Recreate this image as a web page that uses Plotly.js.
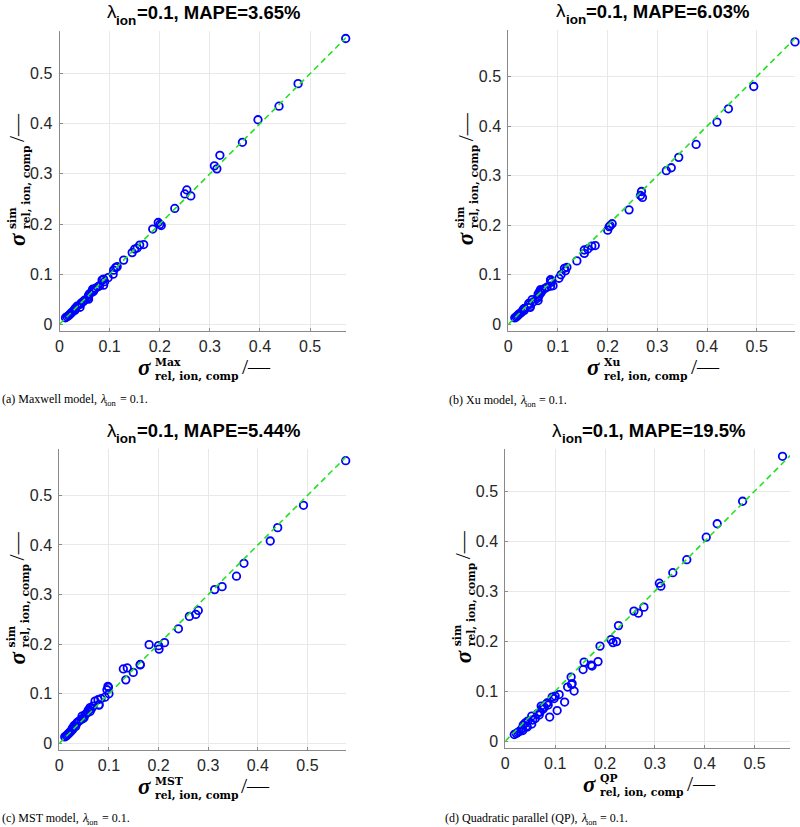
<!DOCTYPE html>
<html><head><meta charset="utf-8">
<script src="https://cdn.plot.ly/plotly-3.0.1.min.js"></script>
<style>body{margin:0;background:#fff}</style>
</head><body><div id="chart" style="width:800px;height:827px"></div>
<script>
// ---------- data ----------
const simValues = [0.570, 0.480, 0.435, 0.408, 0.363, 0.337, 0.316, 0.310, 0.268, 0.260,
 0.256, 0.231, 0.203, 0.199, 0.197, 0.190, 0.159, 0.158, 0.152, 0.150,
 0.143, 0.128, 0.115, 0.113, 0.108, 0.100, 0.093, 0.090, 0.088, 0.085,
 0.078, 0.077, 0.075, 0.072, 0.070, 0.068, 0.066, 0.064, 0.061, 0.058,
 0.055, 0.052, 0.050, 0.048, 0.045, 0.042, 0.040, 0.036, 0.034, 0.032,
 0.030, 0.028, 0.025, 0.023, 0.021, 0.019, 0.017, 0.015, 0.013];
const maxwellX = [0.571, 0.476, 0.438, 0.396, 0.365, 0.320, 0.309, 0.314, 0.254, 0.250,
 0.262, 0.230, 0.197, 0.200, 0.203, 0.186, 0.168, 0.160, 0.155, 0.150,
 0.145, 0.128, 0.115, 0.112, 0.108, 0.107, 0.097, 0.088, 0.085, 0.090,
 0.088, 0.080, 0.077, 0.072, 0.066, 0.067, 0.068, 0.065, 0.060, 0.058,
 0.058, 0.056, 0.058, 0.050, 0.047, 0.043, 0.042, 0.035, 0.041, 0.032,
 0.030, 0.031, 0.026, 0.024, 0.022, 0.020, 0.018, 0.015, 0.012];
const xuX = [0.577, 0.494, 0.443, 0.420, 0.378, 0.343, 0.328, 0.318, 0.268, 0.266,
 0.270, 0.243, 0.209, 0.205, 0.203, 0.200, 0.175, 0.168, 0.160, 0.153,
 0.153, 0.138, 0.118, 0.113, 0.115, 0.106, 0.102, 0.085, 0.085, 0.087,
 0.090, 0.085, 0.078, 0.073, 0.065, 0.068, 0.063, 0.066, 0.060, 0.062,
 0.060, 0.058, 0.048, 0.060, 0.050, 0.041, 0.043, 0.044, 0.044, 0.032,
 0.030, 0.032, 0.027, 0.025, 0.022, 0.020, 0.018, 0.016, 0.013];
const mstX = [0.577, 0.492, 0.440, 0.425, 0.372, 0.357, 0.328, 0.313, 0.280, 0.275,
 0.262, 0.240, 0.212, 0.181, 0.200, 0.201, 0.163, 0.163, 0.137, 0.129,
 0.149, 0.134, 0.098, 0.099, 0.096, 0.100, 0.092, 0.084, 0.078, 0.072,
 0.080, 0.080, 0.068, 0.062, 0.065, 0.060, 0.058, 0.062, 0.056, 0.052,
 0.046, 0.050, 0.048, 0.044, 0.040, 0.036, 0.035, 0.030, 0.033, 0.028,
 0.026, 0.027, 0.024, 0.022, 0.020, 0.018, 0.016, 0.014, 0.011];
const qpX = [0.556, 0.476, 0.425, 0.403, 0.364, 0.336, 0.309, 0.312, 0.278, 0.258,
 0.267, 0.227, 0.212, 0.223, 0.216, 0.190, 0.186, 0.158, 0.172, 0.174,
 0.156, 0.132, 0.134, 0.133, 0.125, 0.138, 0.108, 0.100, 0.094, 0.098,
 0.119, 0.085, 0.083, 0.086, 0.072, 0.078, 0.074, 0.076, 0.104, 0.070,
 0.065, 0.068, 0.053, 0.089, 0.060, 0.055, 0.045, 0.040, 0.053, 0.036,
 0.043, 0.044, 0.034, 0.032, 0.035, 0.028, 0.025, 0.022, 0.018];
const modelSupers = ['Max', 'Xu', 'MST', 'QP'];
const mapeLabels = ['3.65%', '6.03%', '5.44%', '19.5%'];
const captionTexts = ['(a) Maxwell model,', '(b) Xu model,', '(c) MST model,', '(d) Quadratic parallel (QP),'];
const lambdaIon = '0.1';
const subLabel = 'rel, ion, comp';
const tickVals = [0, 0.1, 0.2, 0.3, 0.4, 0.5];
const tickText = ['0', '0.1', '0.2', '0.3', '0.4', '0.5'];
const refLine = [0, 0.6];

// ---------- layout geometry ----------
const W = 800, H = 827;
const px2x = p => p / W, py2y = p => 1 - p / H;
const boxes = [
  {l: 59.5, r: 345.7, t: 31, b: 331, xr: [0, 0.571], yr: [-0.0134, 0.585], cap: [1, 403]},
  {l: 508.3, r: 795, t: 30, b: 331, xr: [0, 0.577], yr: [-0.0135, 0.594], cap: [448, 404]},
  {l: 59.3, r: 345.7, t: 449.3, b: 750, xr: [0, 0.577], yr: [-0.0135, 0.593], cap: [1, 822]},
  {l: 505.3, r: 790, t: 449.3, b: 747.7, xr: [0, 0.571], yr: [-0.0134, 0.584], cap: [444, 822]}
];
const xsAll = [maxwellX, xuX, mstX, qpX];
const SANS = 'Liberation Sans';
const SERIF = 'Liberation Serif';
const WIDESERIF = 'DejaVu Serif';
const MID = {'Liberation Sans': 0.3465, 'Liberation Serif': 0.3375}; // (ascent-descent)/2 in em

const ctx = document.createElement('canvas').getContext('2d');
function tw(text, f) {
  ctx.font = (f.style || 'normal') + ' ' + (f.weight || 'normal') + ' ' + f.size + 'px "' + f.family + '"';
  return ctx.measureText(text).width;
}
// a run of text pieces placed left-to-right on given baselines
function runPieces(x0, pieces) {
  const out = [];
  let x = x0;
  pieces.forEach(p => {
    x += p.pre || 0;
    out.push({xref: 'paper', yref: 'paper', x: px2x(x), y: py2y(p.base - MID[p.font.family] * p.font.size),
      xanchor: 'left', yanchor: 'middle', showarrow: false, borderpad: 0, text: p.text,
      font: Object.assign({color: '#000'}, p.font)});
    x += tw(p.text, p.font);
  });
  return out;
}

const data = [];
const layout = {width: W, height: H, margin: {l: 0, r: 0, t: 0, b: 0}, showlegend: false,
  paper_bgcolor: '#fff', plot_bgcolor: '#fff', annotations: []};

function axis(domain, range, anchor, isY) {
  return {domain, range, anchor, tickmode: 'array', tickvals: tickVals, ticktext: tickText,
    showgrid: true, gridcolor: '#e8e8e8', gridwidth: 1, zeroline: true, zerolinecolor: '#e8e8e8', zerolinewidth: 1,
    showline: true, linecolor: '#8a8a8a', linewidth: 1, ticks: 'inside', ticklen: 3, tickcolor: '#8a8a8a',
    ticklabelstandoff: isY ? 3 : 1,
    tickfont: {family: SANS + ', Arial, sans-serif', size: 16, color: '#262626'}, fixedrange: true};
}

function labelPieces(box, sup, isY) {
  const cx = (box.l + box.r) / 2, cy = (box.t + box.b) / 2;
  const pieces = [
    {text: 'σ', off: -51, end: true, v: 36.5, font: {family: SERIF, size: 23, weight: 'bold', style: 'italic', color: '#000'}},
    {text: sup + '<br>' + subLabel, off: -49, end: false, v: 38, font: {family: WIDESERIF, size: 10.8, weight: 'bold', color: '#000'}},
    {text: '/—', off: 38, end: false, v: 35.5, font: {family: SERIF, size: 22, color: '#000'}}
  ];
  return pieces.map(p => {
    const base = {xref: 'paper', yref: 'paper', text: p.text, font: p.font, showarrow: false, align: 'left', borderpad: 0};
    if (!isY) {
      return Object.assign(base, {x: px2x(cx + p.off), y: py2y(box.b + p.v),
        xanchor: p.end ? 'right' : 'left', yanchor: 'middle'});
    }
    const d = 78.5 - p.v;
    return Object.assign(base, {x: px2x(box.l - d), y: py2y(cy - p.off),
      xanchor: 'center', yanchor: p.end ? 'top' : 'bottom', textangle: -90});
  });
}

boxes.forEach((box, i) => {
  const n = i === 0 ? '' : String(i + 1);
  data.push({type: 'scatter', mode: 'markers', x: xsAll[i], y: simValues, xaxis: 'x' + n, yaxis: 'y' + n,
    cliponaxis: false, hoverinfo: 'skip',
    marker: {symbol: 'circle-open', size: 7.5, color: '#0000ff', line: {width: 1.8, color: '#0000ff'}}});
  data.push({type: 'scatter', mode: 'lines', x: refLine, y: refLine, xaxis: 'x' + n, yaxis: 'y' + n,
    hoverinfo: 'skip', line: {color: '#22e022', width: 1.6, dash: '6px,4px'}});
  layout['xaxis' + n] = axis([px2x(box.l), px2x(box.r)], box.xr, 'y' + n, false);
  layout['yaxis' + n] = axis([py2y(box.b), py2y(box.t)], box.yr, 'x' + n, true);
  const cx = (box.l + box.r) / 2;

  // title: λ_ion=0.1, MAPE=...
  const tBase = box.t - 12.5, tSub = box.t - 6;
  const tParts = [
    {text: 'λ', base: tBase, font: {family: SANS, size: 19}},
    {text: 'ion', base: tSub, font: {family: SANS, size: 13.5, weight: 'bold'}},
    {text: '=' + lambdaIon + ', MAPE=' + mapeLabels[i], base: tBase, font: {family: SANS, size: 18.5, weight: 'bold'}}
  ];
  const tWidth = tParts.reduce((s, p) => s + tw(p.text, p.font), 0);
  layout.annotations.push(...runPieces(cx - tWidth / 2, tParts));

  layout.annotations.push(...labelPieces(box, modelSupers[i], false));
  layout.annotations.push(...labelPieces(box, 'sim', true));

  // caption: (x) ... model, λ_ion = 0.1.
  const cBase = box.cap[1], cf = {family: SERIF, size: 12};
  layout.annotations.push(...runPieces(box.cap[0], [
    {text: captionTexts[i], base: cBase, font: cf},
    {text: 'λ', base: cBase, font: {family: SERIF, size: 12, style: 'italic'}, pre: tw(' ', cf)},
    {text: 'ion', base: cBase + 2.5, font: {family: SERIF, size: 8.5}},
    {text: '= ' + lambdaIon + '.', base: cBase, font: cf, pre: tw(' ', cf) + 0.5}
  ]));
});

Plotly.newPlot('chart', data, layout, {displayModeBar: false, staticPlot: true});
</script></body></html>
